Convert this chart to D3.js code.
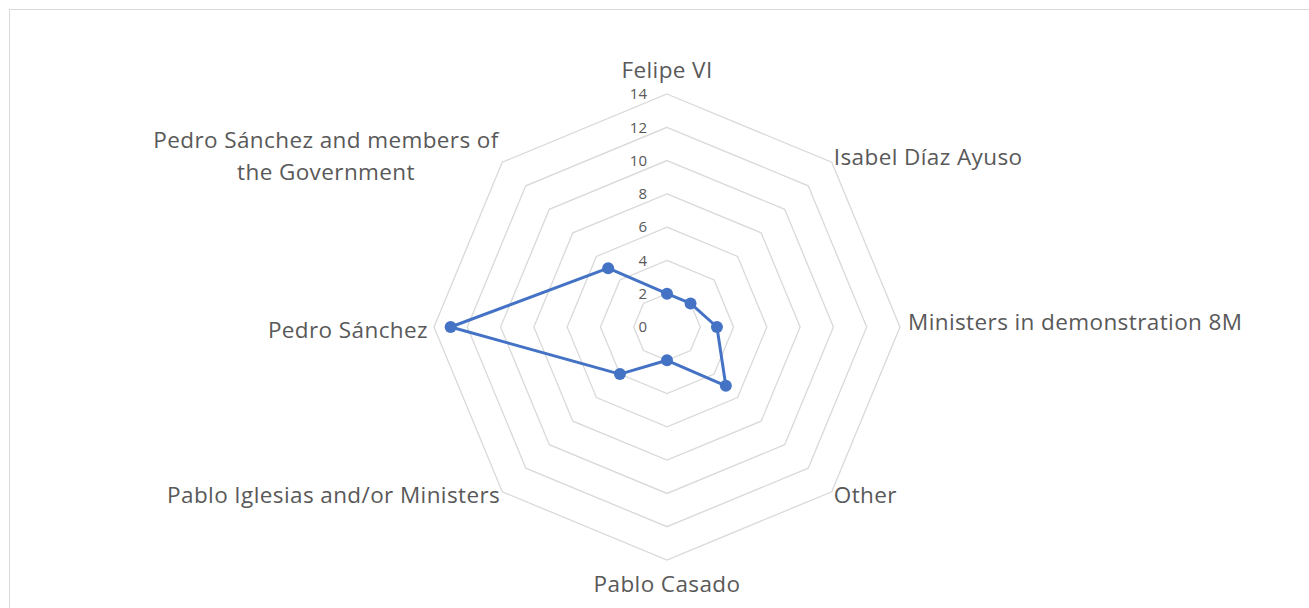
<!DOCTYPE html>
<html>
<head>
<meta charset="utf-8">
<script src="https://cdn.jsdelivr.net/npm/d3@7"></script>
<style>
  body { margin: 0; background: #fff; }
  svg { display: block; font-family: "Open Sans", Lato, sans-serif; }
</style>
</head>
<body>
<svg id="chart" width="1309" height="608"></svg>
<script>
// categories clockwise from the top
const categories = [
  'Felipe VI',
  'Isabel Díaz Ayuso',
  'Ministers in demonstration 8M',
  'Other',
  'Pablo Casado',
  'Pablo Iglesias and/or Ministers',
  'Pedro Sánchez',
  'Pedro Sánchez and members of the Government'
];
const values = [2, 2, 3, 5, 2, 4, 13, 5];
const ticks = [0, 2, 4, 6, 8, 10, 12, 14];

const cx = 667, cy = 327;
const maxR = 233;

const svg = d3.select('#chart');

// chart area border (Excel style)
svg.append('rect')
  .attr('x', 9.5).attr('y', 9.5)
  .attr('width', 1320).attr('height', 620)
  .attr('fill', 'none')
  .attr('stroke', '#d9d9d9');

const g = svg.append('g').attr('transform', `translate(${cx},${cy})`);

const rScale = d3.scaleLinear().domain([0, 14]).range([0, maxR]);
const angle = d3.scalePoint().domain(categories).range([0, 2 * Math.PI * 7 / 8]);

const pt = (cat, r) => {
  const a = angle(cat);
  return [r * Math.sin(a), -r * Math.cos(a)];
};

// grid polygons
g.append('g').selectAll('path')
  .data(ticks.slice(1))
  .join('path')
  .attr('d', (t) => d3.line()(categories.map((c) => pt(c, rScale(t)))) + 'Z')
  .attr('fill', 'none')
  .attr('stroke', '#d9d9d9')
  .attr('stroke-width', 1.3);

// tick labels
g.append('g').selectAll('text')
  .data(ticks)
  .join('text')
  .attr('x', -20)
  .attr('y', (t) => -rScale(t))
  .attr('dy', '0.35em')
  .attr('text-anchor', 'end')
  .attr('fill', '#595959')
  .style('font-size', '15px')
  .text((t) => t);

// category labels
g.append('g').selectAll('text')
  .data(categories)
  .join('text')
  .attr('fill', '#595959')
  .style('font-size', '22.5px')
  .style('letter-spacing', '0.4px')
  .each(function (c) {
    const [x, y] = pt(c, maxR);
    const s = Math.sin(angle(c));
    const el = d3.select(this);
    let anchor = 'middle', dx = 0, dy = 0;
    if (Math.abs(s) < 0.01) {
      dy = y < 0 ? -24 : 24;
    } else if (s > 0) {
      anchor = 'start'; dx = Math.abs(y) < 1 ? 8 : 2; dy = y < 0 ? -5 : 3;
    } else {
      anchor = 'end'; dx = Math.abs(y) < 1 ? -6 : -2; dy = y > 0 ? 3 : -5;
    }
    el.attr('text-anchor', anchor);
    if (c === 'Pedro Sánchez and members of the Government') {
      el.attr('text-anchor', 'middle');
      el.append('tspan').attr('x', -341).attr('y', -187 + 8).text('Pedro Sánchez and members of');
      el.append('tspan').attr('x', -341).attr('y', -155 + 8).text('the Government');
    } else {
      el.attr('x', x + dx).attr('y', y + dy).attr('dy', '0.35em').text(c);
    }
  });

// series line
const linePts = categories.map((c, i) => pt(c, rScale(values[i])));
g.append('path')
  .attr('d', d3.line()(linePts) + 'Z')
  .attr('fill', 'none')
  .attr('stroke', '#4472c4')
  .attr('stroke-width', 3)
  .attr('stroke-linejoin', 'round');

g.append('g').selectAll('circle')
  .data(linePts)
  .join('circle')
  .attr('cx', (d) => d[0])
  .attr('cy', (d) => d[1])
  .attr('r', 6)
  .attr('fill', '#4472c4');
</script>
</body>
</html>
